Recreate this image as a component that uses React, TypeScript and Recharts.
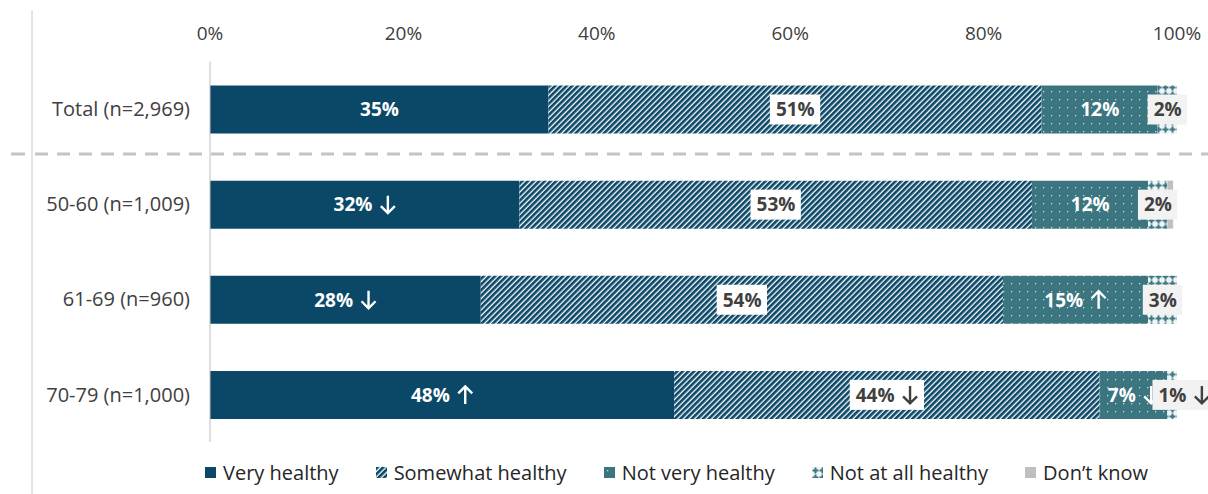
import { BarChart, Bar, XAxis, YAxis, Legend, LabelList } from "recharts";

const categories = ["Total (n=2,969)", "50-60 (n=1,009)", "61-69 (n=960)", "70-79 (n=1,000)"];
const veryHealthy = [35, 32, 28, 48];
const somewhatHealthy = [51, 53, 54, 44];
const notVeryHealthy = [12, 12, 15, 7];
const notAtAllHealthy = [2, 2, 3, 1];
const dontKnow = [0.3, 0.6, 0.3, 0.3];

// significance arrows shown after the labels
const veryFlags = ["", "down", "down", "up"];
const somewhatFlags = ["", "", "", "down"];
const notVeryFlags = ["", "", "up", "down"];
const notAtAllFlags = ["", "", "", "down"];

const xTicks = [0, 20, 40, 60, 80, 100];

const NAVY = "#0b4868";
const TEAL = "#3b7580";
const GREY = "#bfbfbf";

const data = categories.map((name, i) => ({
  name,
  very: veryHealthy[i],
  somewhat: somewhatHealthy[i],
  notVery: notVeryHealthy[i],
  notAtAll: notAtAllHealthy[i],
  dontKnow: dontKnow[i],
}));

const legendItems = [
  { label: "Very healthy", fill: NAVY },
  { label: "Somewhat healthy", fill: "url(#hatch)" },
  { label: "Not very healthy", fill: "url(#dots)" },
  { label: "Not at all healthy", fill: "url(#cross)" },
  { label: "Don\u2019t know", fill: GREY },
];

// rough width of a bold 19px label like "35%"
const textWidth = (s: string) =>
  s.split("").reduce((w, c) => w + (c === "%" ? 16.5 : 10.9), 0);

const makeLabel =
  (flags: string[], box: string | null, centerNumber = false) =>
  (props: any) => {
    const { x, y, width, height, value, index } = props;
    const flag = flags[index];
    const txt = `${value}%`;
    const numW = textWidth(txt);
    const total = numW + (flag ? 24 : 0);
    const cx = Number(x) + Number(width) / 2;
    const cy = Number(y) + Number(height) / 2;
    const start = centerNumber ? cx - numW / 2 : cx - total / 2;
    const color = box ? "#404040" : "#ffffff";
    const ax = start + numW + 16;
    let arrow = null;
    if (flag === "down") {
      arrow = (
        <path
          d={`M${ax} ${cy - 9} L${ax} ${cy + 8} M${ax - 7} ${cy + 1.5} L${ax} ${cy + 8.5} L${ax + 7} ${cy + 1.5}`}
          stroke={color}
          strokeWidth={2.4}
          fill="none"
        />
      );
    } else if (flag === "up") {
      arrow = (
        <path
          d={`M${ax} ${cy + 9} L${ax} ${cy - 8} M${ax - 7} ${cy - 1.5} L${ax} ${cy - 8.5} L${ax + 7} ${cy - 1.5}`}
          stroke={color}
          strokeWidth={2.4}
          fill="none"
        />
      );
    }
    return (
      <g>
        {box && <rect x={start - 6} y={cy - 15} width={total + 12} height={30} fill={box} />}
        <text x={start} y={cy} dy={6.8} fill={color} textAnchor="start" fontSize={19} fontWeight={700}>
          {txt}
        </text>
        {arrow}
      </g>
    );
  };

const renderLegend = () => (
  <div
    style={{
      display: "flex",
      alignItems: "center",
      height: 42,
      paddingTop: 18,
      paddingLeft: 205,
      boxSizing: "border-box",
      gap: 37,
      fontSize: 20,
      color: "#262626",
    }}
  >
    {legendItems.map((item) => (
      <div key={item.label} style={{ display: "flex", alignItems: "center", gap: 7 }}>
        <svg width={11} height={11}>
          <rect width={11} height={11} fill={item.fill} />
        </svg>
        <span>{item.label}</span>
      </div>
    ))}
  </div>
);

export default function App() {
  return (
    <div
      style={{
        position: "absolute",
        left: 0,
        top: 0,
        width: 1208,
        height: 494,
        background: "#fff",
        fontFamily: "'Open Sans', sans-serif",
      }}
    >
      <svg width={0} height={0} style={{ position: "absolute" }}>
        <defs>
          <pattern id="hatch" patternUnits="userSpaceOnUse" width={4} height={4} patternTransform="rotate(45)">
            <rect width={4} height={4} fill="#fff" />
            <rect width={2.7} height={4} fill={NAVY} />
          </pattern>
          <pattern id="dots" patternUnits="userSpaceOnUse" width={8} height={8}>
            <rect width={8} height={8} fill={TEAL} />
            <rect x={3} y={3} width={1.3} height={1.3} fill="#c8dde0" />
          </pattern>
          <pattern id="cross" patternUnits="userSpaceOnUse" width={7} height={7}>
            <rect width={7} height={7} fill="#eef4f5" />
            <rect x={2.5} y={0.5} width={2} height={6} fill={TEAL} />
            <rect x={0.5} y={2.5} width={6} height={2} fill={TEAL} />
          </pattern>
        </defs>
      </svg>

      <BarChart
        width={1208}
        height={494}
        data={data}
        layout="vertical"
        margin={{ top: 31.5, right: 31, bottom: 10, left: 0 }}
      >
        <XAxis
          type="number"
          orientation="top"
          domain={[0, 100]}
          ticks={xTicks}
          allowDataOverflow
          tickFormatter={(v) => `${v}%`}
          axisLine={false}
          tickLine={false}
          tickSize={0}
          tickMargin={22}
          height={30}
          tick={{ fill: "#404040", fontSize: 19 }}
        />
        <YAxis
          type="category"
          dataKey="name"
          width={210}
          tickLine={false}
          tickSize={0}
          tickMargin={20}
          axisLine={{ stroke: "#bfbfbf" }}
          tick={{ fill: "#404040", fontSize: 20 }}
        />
        <Legend verticalAlign="bottom" content={renderLegend} />
        <Bar dataKey="very" stackId="a" fill={NAVY} barSize={48} isAnimationActive={false}>
          <LabelList dataKey="very" content={makeLabel(veryFlags, null)} />
        </Bar>
        <Bar dataKey="somewhat" stackId="a" fill="url(#hatch)" barSize={48} isAnimationActive={false}>
          <LabelList dataKey="somewhat" content={makeLabel(somewhatFlags, "#ffffff")} />
        </Bar>
        <Bar dataKey="notVery" stackId="a" fill="url(#dots)" barSize={48} isAnimationActive={false}>
          <LabelList dataKey="notVery" content={makeLabel(notVeryFlags, null)} />
        </Bar>
        <Bar dataKey="notAtAll" stackId="a" fill="url(#cross)" barSize={48} isAnimationActive={false}>
          <LabelList dataKey="notAtAll" content={makeLabel(notAtAllFlags, "#f2f2f2", true)} />
        </Bar>
        <Bar dataKey="dontKnow" stackId="a" fill={GREY} barSize={48} isAnimationActive={false} />
      </BarChart>

      <svg
        width={1208}
        height={494}
        style={{ position: "absolute", left: 0, top: 0, pointerEvents: "none" }}
      >
        <line x1={32} y1={10} x2={32} y2={494} stroke="#c8c8c8" strokeWidth={1} />
        <rect x={11} y={152.5} width={14} height={3} fill="#c4c4c4" />
        <line x1={35} y1={154} x2={1208} y2={154} stroke="#c4c4c4" strokeWidth={3} strokeDasharray="13 9" />
      </svg>
    </div>
  );
}
